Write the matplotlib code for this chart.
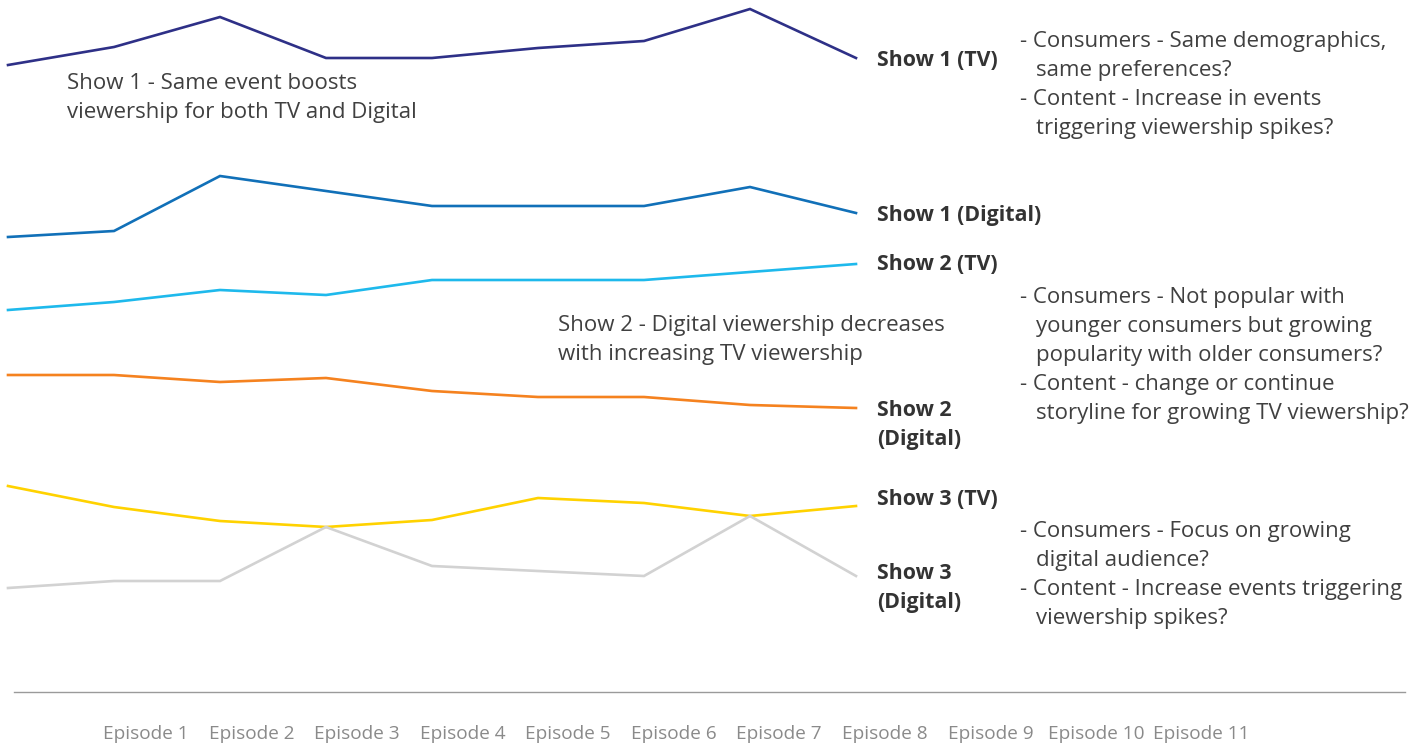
import numpy as np
import matplotlib.pyplot as plt

W, H = 1427, 746

episodes = ['Episode %d' % i for i in range(1, 12)]

# viewership (arbitrary units) for the 9 aired episodes
show1_tv = [627, 645, 675, 634, 634, 644, 651, 683, 634]
show1_digital = [455, 461, 516, 501, 486, 486, 486, 505, 479]
show2_tv = [382, 390, 402, 397, 412, 412, 412, 420, 428]
show2_digital = [317, 317, 310, 314, 301, 295, 295, 287, 284]
show3_tv = [206, 185, 171, 165, 172, 194, 189, 176, 186]
show3_digital = [104, 111, 111, 165, 126, 121, 116, 176, 116]

series = [
    (show1_tv, '#2E3087'),
    (show1_digital, '#1170B8'),
    (show2_tv, '#1EB9EC'),
    (show2_digital, '#F5821F'),
    (show3_tv, '#FFD200'),
    (show3_digital, '#D2D2D2'),
]

series_labels = [
    (['Show 1 (TV)'], 59),
    (['Show 1 (Digital)'], 214),
    (['Show 2 (TV)'], 263),
    (['Show 2', '(Digital)'], 409),
    (['Show 3 (TV)'], 498),
    (['Show 3', '(Digital)'], 572),
]

notes = [
    (40, ['- Consumers - Same demographics,', 'same preferences?',
          '- Content - Increase in events', 'triggering viewership spikes?']),
    (296, ['- Consumers - Not popular with', 'younger consumers but growing',
           'popularity with older consumers?', '- Content - change or continue',
           'storyline for growing TV viewership?']),
    (530, ['- Consumers - Focus on growing', 'digital audience?',
           '- Content - Increase events triggering', 'viewership spikes?']),
]

callouts = [
    (67, 82, ['Show 1 - Same event boosts', 'viewership for both TV and Digital']),
    (558, 324, ['Show 2 - Digital viewership decreases', 'with increasing TV viewership']),
]

plt.rcParams['font.family'] = ['Open Sans', 'DejaVu Sans']

fig = plt.figure(figsize=(W / 100, H / 100), dpi=100)
x0, x1, ybase = 14, 1405, 692
ax = fig.add_axes([x0 / W, (H - ybase) / H, (x1 - x0) / W, ybase / H])

step = 106.0
xs = np.arange(len(show1_tv))
for vals, col in series:
    ax.plot(xs, vals, color=col, lw=1.9, clip_on=False, solid_joinstyle='miter')

ax.set_xlim((x0 - 8) / step, (x1 - 8) / step)
ax.set_ylim(0, ybase)

for s in ['top', 'right', 'left']:
    ax.spines[s].set_visible(False)
ax.spines['bottom'].set_color('#9A9A9A')
ax.spines['bottom'].set_linewidth(1.0)
ax.set_yticks([])

tick_pos = 1.30 + 0.996 * np.arange(len(episodes))
ax.set_xticks(tick_pos)
ax.set_xticklabels(episodes, fontsize=13.7, color='#8A8A8A')
ax.tick_params(axis='x', length=0, pad=24)


def fx(px):
    return px / W


def fy(py):
    # text baselines sit a touch lower than the centre estimate
    return 1 - (py + 1.5) / H


for lines, ytop in series_labels:
    for i, line in enumerate(lines):
        fig.text(fx(877), fy(ytop + 29 * i), line, fontsize=15.4, fontweight='bold',
                 color='#333333', va='center', ha='left')

for ytop, lines in notes:
    for i, line in enumerate(lines):
        xp = 1020 if line.startswith('-') else 1036
        fig.text(fx(xp), fy(ytop + 29 * i), line, fontsize=16, color='#404040',
                 va='center', ha='left')

for xp, ytop, lines in callouts:
    for i, line in enumerate(lines):
        fig.text(fx(xp), fy(ytop + 29 * i), line, fontsize=16, color='#404040',
                 va='center', ha='left')

fig.savefig('out.png', dpi=100)
